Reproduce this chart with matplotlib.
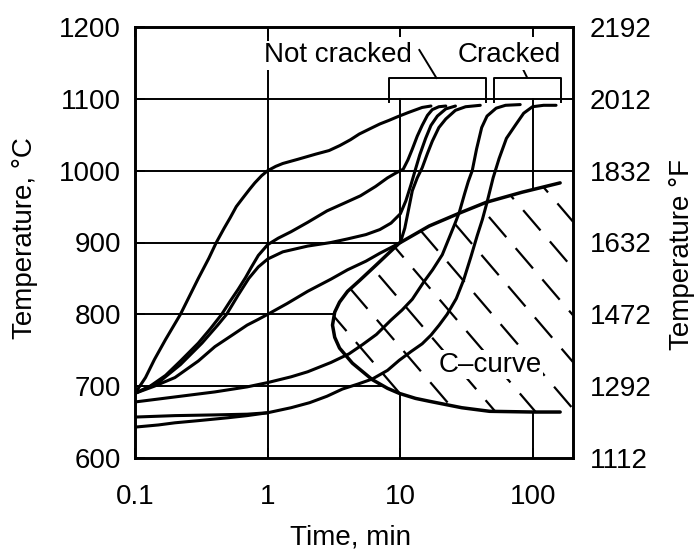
import matplotlib
matplotlib.use('Agg')
import matplotlib.pyplot as plt
from matplotlib.patches import Polygon
from matplotlib.ticker import NullLocator
import numpy as np

plt.rcParams['font.family'] = ['Liberation Sans', 'DejaVu Sans']
plt.rcParams['font.size'] = 20

# heating curves: time (min) vs temperature (deg C)
a_time = [0.1, 0.12, 0.14, 0.17, 0.22, 0.3, 0.36, 0.41, 0.47, 0.52, 0.58, 0.65, 0.73, 0.8, 0.9,
          1.0, 1.15, 1.3, 1.7, 2.3, 2.9, 3.5, 4.2, 4.9, 6, 7, 8.2, 9.5, 11.5, 14.6, 17]
a_temp = [690, 712, 737, 765, 800, 850, 878, 900, 920, 934, 950, 962, 974, 983, 993,
          1000, 1006, 1010, 1016, 1023, 1028, 1035, 1043, 1051, 1059, 1065, 1070, 1075, 1081, 1088, 1090]

b1_time = [0.1, 0.13, 0.17, 0.22, 0.3, 0.37, 0.45, 0.52, 0.6, 0.68, 0.75, 0.85, 1.0, 1.2, 1.5, 2.0,
           2.8, 3.8, 5, 6.5, 8, 9.3, 10.5, 11.4, 12.3, 13.4, 14.6, 16, 17.4, 19.5, 22]
b1_temp = [690, 700, 715, 735, 760, 780, 800, 818, 835, 851, 865, 882, 897, 906, 915, 928,
           944, 955, 965, 978, 990, 997, 1002, 1015, 1030, 1048, 1063, 1077, 1085, 1089, 1090]

b2_time = [0.1, 0.15, 0.22, 0.32, 0.42, 0.49, 0.6, 0.72, 0.85, 1.0, 1.3, 2, 3, 4, 5.5, 7, 8.5, 10,
           11, 12, 13, 14, 15.5, 17, 19, 22, 26]
b2_temp = [690, 705, 730, 760, 785, 800, 827, 850, 866, 877, 887, 895, 900, 905, 911, 918, 927, 940,
           958, 980, 1002, 1022, 1045, 1063, 1076, 1086, 1090]

c_time = [0.1, 0.14, 0.2, 0.3, 0.4, 0.55, 0.7, 0.85, 1.0, 1.4, 2, 3, 4, 5.5, 7, 8.5, 10,
          10.8, 11.5, 12.3, 13.4, 14.6, 16, 17.4, 19.5, 22, 26, 31, 40]
c_temp = [690, 700, 712, 735, 755, 772, 785, 793, 800, 815, 832, 849, 862, 874, 885, 893, 900,
          920, 945, 972, 990, 1004, 1024, 1041, 1060, 1072, 1084, 1089, 1091]

e_time = [0.1, 0.2, 0.4, 0.7, 1.0, 1.5, 2, 3, 4.1, 5.2, 6.6, 8.5, 10.3, 12.3, 15, 17.5, 20.7,
          23.5, 26, 27.8, 30.5, 32.5, 34.8, 37.5, 41, 45, 52.7, 62, 80]
e_temp = [678, 685, 692, 699, 705, 713, 720, 733, 745, 758, 772, 792, 806, 821, 845, 862, 883,
          908, 928, 942, 968, 985, 1000, 1030, 1060, 1076, 1087, 1091, 1092]

f_time = [0.1, 0.2, 0.4, 0.7, 1.0]
f_temp = [657, 659, 660, 661, 663]

g_time = [0.1, 0.15, 0.2, 0.3, 0.5, 0.7, 1.0, 1.5, 2.07, 2.8, 3.66, 4.8, 6.15, 8, 9.8, 12, 14.6, 17,
          19.6, 22.5, 26.4, 30, 34, 38, 41.5, 45, 50, 55.5, 63, 74, 85, 99, 120, 149]
g_temp = [643, 646, 649, 652, 656, 659, 663, 670, 677, 686, 696, 703, 710, 722, 736, 748, 759, 771,
          785, 800, 822, 848, 880, 910, 932, 956, 990, 1017, 1045, 1064, 1080, 1089, 1091, 1091]

# C-curve boundary, both branches start at the nose
cu_time = [3.08, 3.2, 3.48, 4.0, 4.92, 6.6, 9.8, 16.5, 28.8, 44.4, 82.7, 160]
cu_temp = [785, 803, 817, 832, 847, 869, 899, 923, 942, 956, 970, 983]
cl_time = [3.08, 3.2, 3.48, 4.35, 6.15, 8, 9.8, 13, 16.5, 29, 47, 100, 160]
cl_temp = [785, 768, 753, 732, 709, 697, 690, 683, 679, 670, 665, 664, 664]

c_ticks = [600, 700, 800, 900, 1000, 1100, 1200]
f_labels = ['1112', '1292', '1472', '1632', '1832', '2012', '2192']
x_ticks = [0.1, 1, 10, 100]
x_labels = ['0.1', '1', '10', '100']

fig = plt.figure(figsize=(6.96, 5.53), dpi=100)
ax = fig.add_axes([135 / 696, 1 - 458 / 553, 438 / 696, 431 / 553])
ax.set_xscale('log')
ax.set_xlim(0.1, 200)
ax.set_ylim(600, 1200)

# grid
for y in c_ticks[1:-1]:
    ax.axhline(y, color='black', lw=1.4, zorder=1)
ax.plot([1, 1], [600, 1200], color='black', lw=1.4, zorder=1)
for x in [10, 100]:
    ax.plot([x, x], [600, 1100], color='black', lw=1.4, zorder=1)

# C-curve region (white fill + dashed hatch)
reg_t = cu_time + [200, 200] + cl_time[::-1]
reg_T = cu_temp + [cu_temp[-1], cl_temp[-1]] + cl_temp[::-1]
region = Polygon(np.column_stack([reg_t, reg_T]), closed=True, transform=ax.transData,
                 fc='white', ec='none', zorder=2)
ax.add_patch(region)

W, H = 438.0, 431.0
slope = 1.17
step = 40 * slope
for i, c in enumerate(np.arange(0, H + slope * W + step, step)):
    xs = np.array([0, W])
    ys = c - slope * xs
    ln, = ax.plot(xs / W, ys / H, transform=ax.transAxes, color='black', lw=1.6,
                  linestyle=(i * 4, (12, 6.5)), zorder=3)
    ln.set_clip_path(region)

# curves
for t, T in [(a_time, a_temp), (b1_time, b1_temp), (b2_time, b2_temp), (c_time, c_temp),
             (e_time, e_temp), (f_time, f_temp), (g_time, g_temp)]:
    ax.plot(t, T, color='black', lw=2.2, zorder=4, solid_joinstyle='round', solid_capstyle='round')
ax.plot(cl_time[::-1] + cu_time[1:], cl_temp[::-1] + cu_temp[1:], color='black', lw=2.5,
        zorder=4, solid_joinstyle='round', solid_capstyle='round')

# labels inside
ax.text(10 ** (-1 + (338 - 135) / 133), 1151, 'Not cracked', ha='center', va='baseline',
        fontsize=20, zorder=6, bbox=dict(fc='white', ec='none', pad=1))
ax.text(10 ** (-1 + (510 - 135) / 133), 1151, 'Cracked', ha='center', va='baseline',
        fontsize=20, zorder=6, bbox=dict(fc='white', ec='none', pad=1))
ax.text(10 ** (-1 + (491 - 135) / 133), 720, 'C\u2013curve', ha='center', va='baseline',
        fontsize=20, zorder=6, bbox=dict(fc='white', ec='none', pad=1))

# brackets and leaders
bk = dict(color='black', lw=1.4, zorder=5, clip_on=False)
ax.plot([8.26, 8.26, 44.4, 44.4], [1096, 1129, 1129, 1096], **bk)
ax.plot([50.9, 50.9, 162, 162], [1096, 1129, 1129, 1096], **bk)
ax.plot([13.9, 18.7], [1168, 1129], **bk)
ax.plot([82.6, 90], [1144, 1130], **bk)

# axes styling
ax.set_xticks(x_ticks)
ax.set_xticklabels(x_labels)
ax.xaxis.set_minor_locator(NullLocator())
ax.set_yticks(c_ticks)
ax.tick_params(direction='in', length=7, width=1.4, top=True, labelsize=20)
ax.tick_params(axis='x', pad=19)
ax.tick_params(axis='y', pad=10)
for s in ax.spines.values():
    s.set_linewidth(1.9)

ax2 = ax.twinx()
ax2.set_ylim(600, 1200)
ax2.set_yticks(c_ticks)
ax2.set_yticklabels(f_labels)
ax2.tick_params(direction='in', length=0, pad=12, labelsize=20)
for s in ax2.spines.values():
    s.set_linewidth(1.9)

fig.text(25 / 696, 1 - 238 / 553, 'Temperature, \u00b0C', rotation=90, ha='center', va='center', fontsize=20)
fig.text(682 / 696, 1 - 255 / 553, 'Temperature \u00b0F', rotation=90, ha='center', va='center', fontsize=20)
fig.text(351 / 696, 1 - 537 / 553, 'Time, min', ha='center', va='center', fontsize=20)

fig.savefig('out.png', dpi=100)
